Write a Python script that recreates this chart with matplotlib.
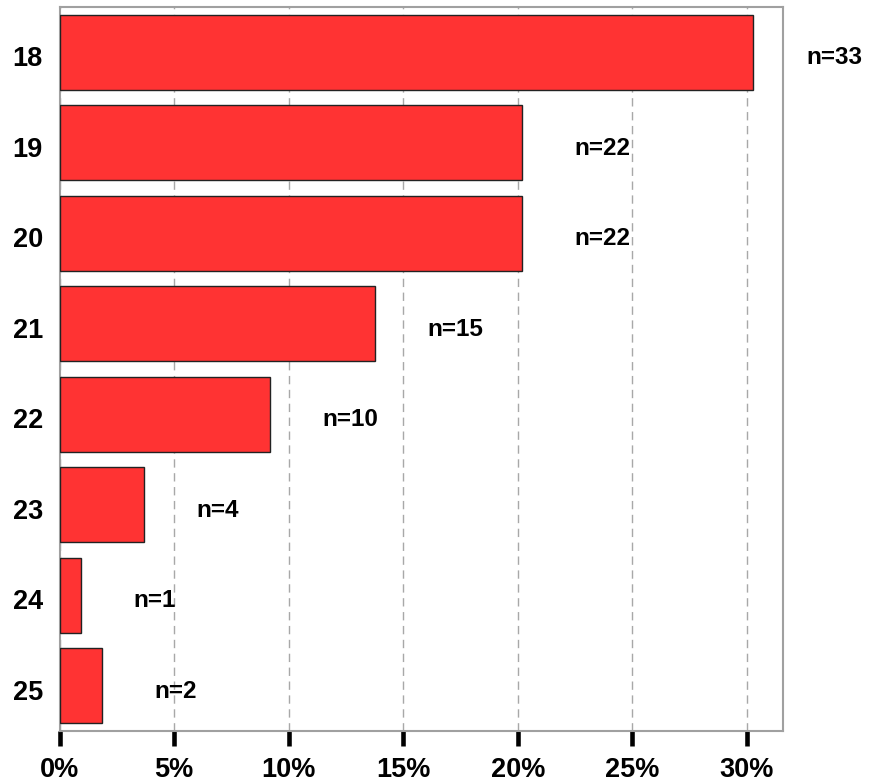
import matplotlib.pyplot as plt
import matplotlib.transforms as mtransforms
from matplotlib.ticker import FuncFormatter

plt.rcParams['font.family'] = ['Liberation Sans', 'DejaVu Sans']
plt.rcParams['font.weight'] = 'bold'

# Age distribution of respondents
ages = ["18", "19", "20", "21", "22", "23", "24", "25"]
counts = [33, 22, 22, 15, 10, 4, 1, 2]

total = sum(counts)
shares = [100.0 * c / total for c in counts]

fig = plt.figure(figsize=(8.69, 7.83), dpi=100)
ax = fig.add_axes([0.0685, 0.0664, 0.8325, 0.9246])

pos = list(range(len(ages)))
ax.barh(pos, shares, height=0.83, color="#FF3333", edgecolor="#222222",
        linewidth=1.0, zorder=3)

# count labels to the right of each bar
for y, s, c in zip(pos, shares, counts):
    ax.text(s + 2.3, y + 0.06, f"n={c}", ha="left", va="center",
            fontsize=17.5, fontweight="bold", clip_on=False, zorder=4)

ax.set_xlim(0, 31.57)
ax.set_ylim(len(ages) - 0.5, -0.5)
ax.set_yticks(pos)
ax.set_yticklabels(ages)
ax.set_xticks([0, 5, 10, 15, 20, 25, 30])
ax.xaxis.set_major_formatter(FuncFormatter(lambda v, p: f"{v:.0f}%"))

ax.grid(axis="x", linestyle=(0, (6, 4)), color="#A8A8A8", linewidth=1.0, zorder=0)
ax.grid(axis="y", visible=False)

for sp in ax.spines.values():
    sp.set_color("#A0A0A0")
    sp.set_linewidth(1.5)

ax.tick_params(axis="x", length=11, width=3.3, color="black", pad=8, labelsize=19.5)
ax.tick_params(axis="y", length=0, pad=12, labelsize=19.5)

# nudge the age labels down a little
shift = mtransforms.ScaledTranslation(0, -4 / 100, fig.dpi_scale_trans)
for lbl in ax.get_yticklabels():
    lbl.set_transform(lbl.get_transform() + shift)

plt.savefig("out.png", dpi=100)
